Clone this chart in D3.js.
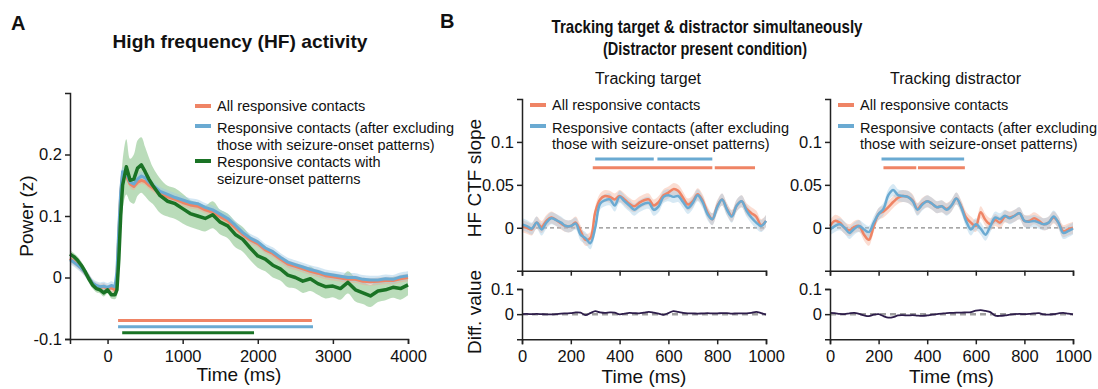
<!DOCTYPE html>
<html lang="en">
<head>
<meta charset="UTF-8">
<title>HF activity</title>
<script src="https://d3js.org/d3.v7.min.js"></script>
<style>
  body { margin: 0; background: #fff; }
  svg text { font-family: "Liberation Sans", Arial, sans-serif; fill: #111; }
  .axis path, .axis line { stroke: #222; stroke-width: 1.5px; }
  .axis text { font-size: 16.5px; fill: #111; }
</style>
</head>
<body>
<svg width="1098" height="389"></svg>
<script>
// ---------- panel A data (time in ms) ----------
const tA = [-500,-450,-400,-350,-300,-250,-200,-150,-100,-50,
  0,50,100,125,150,175,200,250,300,350,
  400,450,500,550,600,700,800,900,1000,1100,
  1200,1300,1400,1500,1600,1700,1800,1900,2000,2100,
  2200,2300,2400,2500,2600,2700,2800,2900,3000,3100,
  3200,3300,3400,3500,3600,3700,3800,3900,4000];

const allA = [0.031,0.026,0.021,0.015,0.008,0.0,-0.01,-0.014,-0.016,-0.015,
  -0.018,-0.017,-0.02,0.0,0.07,0.135,0.168,0.165,0.152,0.148,
  0.155,0.158,0.156,0.15,0.146,0.137,0.131,0.127,0.122,0.118,
  0.116,0.11,0.106,0.099,0.092,0.081,0.07,0.061,0.055,0.045,
  0.039,0.03,0.022,0.018,0.014,0.01,0.007,0.003,0.001,-0.001,
  -0.003,-0.003,-0.006,-0.007,-0.006,-0.005,-0.005,-0.002,0.0];

const exclA = [0.029,0.025,0.02,0.015,0.008,0.0,-0.009,-0.013,-0.015,-0.014,
  -0.016,-0.013,-0.015,0.01,0.08,0.14,0.172,0.17,0.155,0.152,
  0.16,0.165,0.162,0.155,0.15,0.14,0.135,0.13,0.126,0.122,
  0.12,0.114,0.11,0.103,0.096,0.085,0.073,0.064,0.058,0.048,
  0.042,0.033,0.025,0.021,0.017,0.013,0.01,0.006,0.004,0.002,
  0.0,0.0,-0.003,-0.004,-0.004,-0.002,-0.003,0.001,0.003];

const soA = [0.038,0.034,0.028,0.02,0.01,-0.002,-0.012,-0.018,-0.02,-0.025,
  -0.02,-0.028,-0.028,-0.02,0.03,0.1,0.15,0.18,0.158,0.16,
  0.178,0.183,0.172,0.16,0.15,0.133,0.124,0.12,0.112,0.104,
  0.1,0.096,0.102,0.09,0.084,0.07,0.062,0.048,0.035,0.03,
  0.02,0.014,0.004,0.0,-0.006,-0.002,-0.01,-0.015,-0.014,-0.018,
  -0.008,-0.02,-0.025,-0.03,-0.022,-0.02,-0.016,-0.018,-0.012];

const soA_se = [0.006,0.006,0.006,0.006,0.006,0.006,0.006,0.006,0.006,0.006,
  0.006,0.006,0.007,0.01,0.02,0.03,0.04,0.045,0.035,0.04,
  0.045,0.045,0.04,0.035,0.03,0.028,0.025,0.025,0.024,0.022,
  0.022,0.021,0.022,0.02,0.02,0.021,0.02,0.02,0.019,0.02,
  0.02,0.019,0.02,0.018,0.019,0.02,0.018,0.019,0.018,0.018,
  0.018,0.019,0.018,0.018,0.018,0.017,0.017,0.018,0.017];
const allA_se = 0.006;
const exclA_se = 0.007;

// significant windows [start, end] ms, and the level they are drawn at
const sigA = [
  {key: "all", level: -0.07, spans: [[140, 2720]]},
  {key: "excl", level: -0.08, spans: [[140, 2735]]},
  {key: "so", level: -0.09, spans: [[195, 1950]]}
];

// ---------- panel B data (time in ms) ----------
const tB = [0,20,40,60,80,100,120,140,160,180,
  200,220,240,260,280,300,320,340,360,380,
  400,420,440,460,480,500,520,540,560,580,
  600,620,640,660,680,700,720,740,760,780,
  800,820,840,860,880,900,920,940,960,980,
  1000];

const targetAll = [0.002,0.0,-0.002,0.006,0.001,0.008,0.012,0.009,0.005,0.002,
  0.002,0.006,-0.004,-0.014,-0.012,0.018,0.033,0.037,0.036,0.033,
  0.037,0.033,0.028,0.025,0.029,0.032,0.033,0.026,0.03,0.038,
  0.041,0.045,0.043,0.035,0.027,0.031,0.039,0.032,0.018,0.01,
  0.025,0.033,0.022,0.014,0.026,0.031,0.022,0.017,0.013,0.003,
  0.008];
const targetExcl = [0.004,0.002,-0.001,0.006,-0.002,0.006,0.011,0.009,0.006,0.002,
  0.002,0.005,-0.008,-0.012,-0.018,0.0,0.028,0.032,0.033,0.026,
  0.036,0.031,0.026,0.021,0.025,0.028,0.029,0.021,0.025,0.036,
  0.038,0.036,0.037,0.03,0.023,0.029,0.038,0.03,0.016,0.01,
  0.024,0.033,0.021,0.013,0.026,0.031,0.02,0.012,0.006,0.002,
  0.008];
const targetDiff = [0,0.001,0,0.001,0,-0.001,-0.001,0,0.002,0.003,
  0.004,0.007,0.006,-0.004,0.004,0.012,0.007,0.005,0.007,0.006,
  -0.001,0.002,0.005,0.004,0.003,0.006,0.009,0.006,0.002,-0.003,
  0.004,0.012,0.009,0.005,0.003,0.003,0.002,0.003,0.004,0.003,
  0.003,0.004,0.004,0.002,0.003,0.003,0.003,0.005,0.009,0.004,
  -0.002];

const distAll = [0.002,0.008,0.006,0.0,-0.003,0.001,0.002,-0.008,-0.014,0.002,
  0.016,0.019,0.024,0.03,0.035,0.037,0.036,0.032,0.022,0.028,
  0.031,0.028,0.024,0.025,0.022,0.026,0.034,0.025,0.012,0.006,
  0.002,0.018,0.009,0.004,0.009,0.006,0.013,0.012,0.014,0.017,
  0.008,0.008,0.011,0.008,0.004,0.006,0.012,0.006,-0.004,-0.002,
  0.0];
const distExcl = [-0.002,0.002,0.004,0.0,-0.006,-0.001,0.002,-0.002,-0.005,0.006,
  0.016,0.022,0.038,0.044,0.038,0.037,0.036,0.031,0.021,0.027,
  0.031,0.028,0.024,0.025,0.021,0.026,0.034,0.024,0.008,-0.002,
  0.004,-0.001,-0.008,0.002,0.012,0.01,0.014,0.011,0.014,0.017,
  0.008,0.007,0.008,0.006,0.004,0.006,0.013,0.006,-0.006,-0.004,
  -0.001];
const distDiff = [0.005,0.004,0.001,0,0.003,0.005,0.001,-0.005,-0.008,-0.002,
  0,-0.008,-0.014,-0.012,-0.005,-0.004,-0.005,-0.004,-0.006,-0.007,
  -0.005,-0.002,0,0.002,0.004,0.005,0.006,0.006,0.007,0.008,
  0.014,0.016,0.013,0.008,-0.006,-0.007,-0.005,-0.002,0,0.001,
  0,0.001,0.003,0.004,-0.001,-0.002,0,0.003,0.005,0.002,
  -0.001];
const bandB = 0.007;

const sigTarget = [
  {key: "excl", level: 0.08, spans: [[300, 540], [555, 780]]},
  {key: "all", level: 0.07, spans: [[290, 780], [790, 955]]}
];
const sigDist = [
  {key: "excl", level: 0.08, spans: [[212, 552]]},
  {key: "all", level: 0.07, spans: [[220, 355], [362, 555]]}
];

const legendA = [
  {key: "all", lines: ["All responsive contacts"]},
  {key: "excl", lines: ["Responsive contacts (after excluding", "those with seizure-onset patterns)"]},
  {key: "so", lines: ["Responsive contacts with", "seizure-onset patterns"]}
];
const legendB = legendA.slice(0, 2);

const colors = {all: "#ef8465", excl: "#6aaad2", so: "#1a7325"};
const bandColors = {all: "#f6a98f", excl: "#9cc8e4", so: "#8cc48c"};

// ---------- drawing ----------
const svg = d3.select("svg");
const fmt = d => String(d);

function band(g, x, y, t, m, se, key, op) {
  const area = d3.area()
    .x((d, i) => x(t[i]))
    .y0((d, i) => y(d - (typeof se === "number" ? se : se[i])))
    .y1((d, i) => y(d + (typeof se === "number" ? se : se[i])))
    .curve(d3.curveCatmullRom);
  g.append("path").datum(m).attr("d", area)
    .attr("fill", bandColors[key]).attr("opacity", op);
}

function line(g, x, y, t, m, color, w, curve) {
  const ln = d3.line().x((d, i) => x(t[i])).y(d => y(d)).curve(curve);
  g.append("path").datum(m).attr("d", ln)
    .attr("fill", "none").attr("stroke", color)
    .attr("stroke-width", w).attr("stroke-linejoin", "round");
}

function sigBars(g, x, y, sig, w) {
  sig.forEach(s => {
    g.selectAll(null).data(s.spans).enter().append("line")
      .attr("x1", d => x(d[0])).attr("x2", d => x(d[1]))
      .attr("y1", y(s.level)).attr("y2", y(s.level))
      .attr("stroke", colors[s.key]).attr("stroke-width", w);
  });
}

function legend(g, x0, rows, items) {
  items.forEach((it, k) => {
    const r = rows[k];
    g.append("line").attr("x1", x0).attr("x2", x0 + 16)
      .attr("y1", r.sw).attr("y2", r.sw)
      .attr("stroke", colors[it.key]).attr("stroke-width", 4);
    it.lines.forEach((txt, j) => {
      g.append("text").attr("x", x0 + 22).attr("y", r.base[j])
        .attr("font-size", 14.5).text(txt);
    });
  });
}

// ---------- panel A ----------
const xA = d3.scaleLinear([-500, 4000], [70, 408]);
const yA = d3.scaleLinear([-0.1, 0.3], [339, 93]);
const gA = svg.append("g");

band(gA, xA, yA, tA, soA, soA_se, "so", 0.6);
band(gA, xA, yA, tA, allA, allA_se, "all", 0.45);
band(gA, xA, yA, tA, exclA, exclA_se, "excl", 0.45);
line(gA, xA, yA, tA, allA, colors.all, 3, d3.curveLinear);
line(gA, xA, yA, tA, exclA, colors.excl, 3, d3.curveLinear);
line(gA, xA, yA, tA, soA, colors.so, 3.5, d3.curveLinear);
sigBars(gA, xA, yA, sigA, 3);

gA.append("g").attr("class", "axis").attr("transform", "translate(0,339)")
  .call(d3.axisBottom(xA).tickValues([0, 1000, 2000, 3000, 4000])
    .tickSizeOuter(0).tickSize(5).tickPadding(6).tickFormat(fmt));
gA.append("g").attr("class", "axis").attr("transform", "translate(70,0)")
  .call(d3.axisLeft(yA).tickValues([-0.1, 0, 0.1, 0.2])
    .tickSizeOuter(0).tickSize(5).tickPadding(3).tickFormat(fmt));

gA.append("text").attr("x", 239).attr("y", 381).attr("text-anchor", "middle")
  .attr("font-size", 19).text("Time (ms)");
gA.append("text").attr("transform", "translate(33,216) rotate(-90)")
  .attr("text-anchor", "middle").attr("font-size", 19).text("Power (z)");
gA.append("text").attr("x", 240).attr("y", 48).attr("text-anchor", "middle")
  .attr("font-size", 19).attr("font-weight", "bold")
  .attr("textLength", 255).attr("lengthAdjust", "spacingAndGlyphs")
  .text("High frequency (HF) activity");
gA.append("text").attr("x", 11).attr("y", 30).attr("font-size", 20)
  .attr("font-weight", "bold").text("A");

legend(gA, 195, [
  {sw: 106, base: [111]},
  {sw: 126, base: [133, 150]},
  {sw: 161, base: [167, 184]}
], legendA);

// ---------- panel B ----------
const yTop = d3.scaleLinear([-0.05, 0.15], [270.7, 99]);
const yBot = d3.scaleLinear([-0.1, 0.1], [339.3, 289]);

function subplot(x0, x1, title, all, excl, diff, sig, ylabels) {
  const x = d3.scaleLinear([0, 1000], [x0, x1]);
  const g = svg.append("g");

  g.append("line").attr("x1", x0).attr("x2", x1)
    .attr("y1", yTop(0)).attr("y2", yTop(0))
    .attr("stroke", "#8a8a8a").attr("stroke-width", 1.2).attr("stroke-dasharray", "4,3");
  band(g, x, yTop, tB, all, bandB, "all", 0.4);
  band(g, x, yTop, tB, excl, bandB, "excl", 0.4);
  line(g, x, yTop, tB, all, colors.all, 2.5, d3.curveCatmullRom);
  line(g, x, yTop, tB, excl, colors.excl, 2.5, d3.curveCatmullRom);
  sigBars(g, x, yTop, sig, 3);

  g.append("g").attr("class", "axis").attr("transform", `translate(0,${yTop(-0.05)})`)
    .call(d3.axisBottom(x).tickValues([0, 200, 400, 600, 800, 1000])
      .tickSizeOuter(0).tickSize(5).tickFormat(""));
  g.append("g").attr("class", "axis").attr("transform", `translate(${x0},0)`)
    .call(d3.axisLeft(yTop).tickValues([0, 0.05, 0.1])
      .tickSizeOuter(0).tickSize(5).tickPadding(3).tickFormat(fmt));

  // difference plot
  g.append("line").attr("x1", x0).attr("x2", x1)
    .attr("y1", yBot(0)).attr("y2", yBot(0))
    .attr("stroke", "#a0a0a0").attr("stroke-width", 2.5).attr("stroke-dasharray", "6,4");
  line(g, x, yBot, tB, diff, "#2e1d4b", 1.8, d3.curveCatmullRom);
  g.append("g").attr("class", "axis").attr("transform", `translate(0,${yBot(-0.1)})`)
    .call(d3.axisBottom(x).tickValues([0, 200, 400, 600, 800, 1000])
      .tickSizeOuter(0).tickSize(5).tickPadding(6).tickFormat(fmt));
  g.append("g").attr("class", "axis").attr("transform", `translate(${x0},0)`)
    .call(d3.axisLeft(yBot).tickValues([0, 0.1])
      .tickSizeOuter(0).tickSize(5).tickPadding(3).tickFormat(fmt));

  g.append("text").attr("x", (x0 + x1) / 2 + 4).attr("y", 84).attr("text-anchor", "middle")
    .attr("font-size", 16).text(title);
  g.append("text").attr("x", (x0 + x1) / 2).attr("y", 383).attr("text-anchor", "middle")
    .attr("font-size", 19).text("Time (ms)");

  if (ylabels) {
    g.append("text").attr("transform", "translate(481,178) rotate(-90)")
      .attr("text-anchor", "middle").attr("font-size", 19).text("HF CTF slope");
    g.append("text").attr("transform", "translate(481,312) rotate(-90)")
      .attr("text-anchor", "middle").attr("font-size", 19).text("Diff. value");
  }
  legend(g, x0 + 8, [
    {sw: 105, base: [110]},
    {sw: 126, base: [133, 149]}
  ], legendB);
}

subplot(522, 766, "Tracking target", targetAll, targetExcl, targetDiff, sigTarget, true);
subplot(830, 1073, "Tracking distractor", distAll, distExcl, distDiff, sigDist, false);

svg.append("text").attr("x", 707).attr("y", 33).attr("text-anchor", "middle")
  .attr("font-size", 19).attr("font-weight", "bold")
  .attr("textLength", 311).attr("lengthAdjust", "spacingAndGlyphs")
  .text("Tracking target & distractor simultaneously");
svg.append("text").attr("x", 705).attr("y", 55).attr("text-anchor", "middle")
  .attr("font-size", 19).attr("font-weight", "bold")
  .attr("textLength", 204).attr("lengthAdjust", "spacingAndGlyphs")
  .text("(Distractor present condition)");
svg.append("text").attr("x", 440).attr("y", 28).attr("font-size", 20)
  .attr("font-weight", "bold").text("B");
</script>
</body>
</html>
